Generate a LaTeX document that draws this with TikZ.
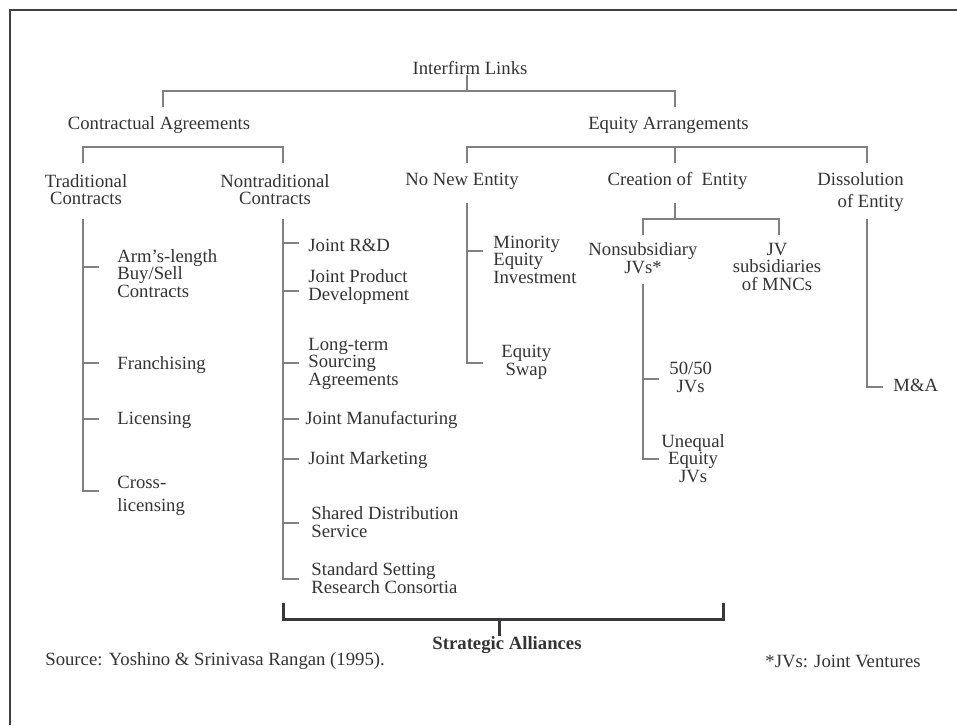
\documentclass[tikz,border=0pt]{standalone}
\usepackage{fontspec}
\setmainfont{Liberation Serif}
\usetikzlibrary{calc}
\definecolor{txt}{HTML}{333333}
\definecolor{lin}{HTML}{808080}
\definecolor{brk}{HTML}{38383C}
\definecolor{frm}{HTML}{404040}
\tikzset{
  lbl/.style={inner sep=0pt, text=txt, font=\fontsize{9.35}{8.75}\selectfont},
  leaf/.style={lbl, anchor=west, align=left},
  ctr/.style={lbl, align=center},
  conn/.style={draw=lin, line width=0.6pt},
  brkline/.style={draw=brk, line width=1.5pt},
  framel/.style={draw=frm, line width=1.1pt}
}
\begin{document}
\begin{tikzpicture}[x=0.5pt, y=-0.5pt]
\useasboundingbox (0,0) rectangle (957,725);
% frame
\coordinate (fr1) at (957,10);
\coordinate (fr2) at (10,10);
\coordinate (fr3) at (10,725);
\draw[framel] (fr1) -- (fr2) -- (fr3);

% level 1 and 2
\node[ctr] (interfirm) at (470,68) {Interfirm Links};
\node[ctr] (contractual) at (159,125) {Contractual Agreements};
\node[ctr] (equity) at (668.5,125) {Equity Arrangements};
\coordinate (L1) at (467,91);
\coordinate (ca) at (163,107);
\coordinate (eb) at (675,107);
\draw[conn] (interfirm.south -| L1) -- (L1);
\draw[conn] (ca) |- (L1) -| (eb);

% level 3
\node[ctr] (trad) at (86,189.5) {Traditional\\Contracts};
\node[ctr] (nontrad) at (275,189.5) {Nontraditional\\Contracts};
\node[ctr] (nonew) at (462,181) {No New Entity};
\node[ctr] (creation) at (677.5,181) {Creation of\ \ Entity};
\node[lbl, align=right, anchor=east, font=\fontsize{9.35}{11}\selectfont] (dissol) at (904,192) {Dissolution\\of Entity};

\coordinate (trd) at (83,163);
\coordinate (ctb) at (183,147);
\coordinate (ntd) at (283,163);
\draw[conn] (trd) |- (ctb) -| (ntd);
\coordinate (nnd) at (467,163);
\coordinate (eqb) at (675,147);
\coordinate (crd) at (675,163);
\coordinate (dsd) at (867,163);
\draw[conn] (nnd) |- (eqb) -| (dsd);
\draw[conn] (eqb) -- (crd);

% traditional contracts
\coordinate (trt) at (83,219);
\node[leaf] (arm) at (117,273.5) {Arm’s-length\\Buy/Sell\\Contracts};
\node[leaf] (fran) at (117,365) {Franchising};
\node[leaf] (lic) at (117,420) {Licensing};
\node[leaf, font=\fontsize{9.35}{11.5}\selectfont] (cross) at (117,495.5) {Cross-\\licensing};
\draw[conn, shorten >=9pt] (trt) |- ($(arm.west)+(0,-6.5)$);
\draw[conn, shorten >=9pt] (trt) |- ($(fran.west)+(0,-2)$);
\draw[conn, shorten >=9pt] (trt) |- ($(lic.west)+(0,-1)$);
\draw[conn, shorten >=9pt] (trt) |- ($(cross.west)+(0,-4.5)$);

% nontraditional contracts
\coordinate (ntt) at (283,219);
\node[leaf] (jrd) at (308,245) {Joint R\&D};
\node[leaf] (jpd) at (308,287) {Joint Product\\Development};
\node[leaf] (lts) at (308,363.5) {Long-term\\Sourcing\\Agreements};
\node[leaf] (jmf) at (305,420) {Joint Manufacturing};
\node[leaf] (jmk) at (308,460) {Joint Marketing};
\node[leaf] (sds) at (311,522) {Shared Distribution\\Service};
\node[leaf] (ssr) at (311,578) {Standard Setting\\Research Consortia};
\draw[conn, shorten >=4.5pt] (ntt) |- ($(jrd.west)+(0,-2)$);
\draw[conn, shorten >=4.5pt] (ntt) |- ($(jpd.west)+(0,4)$);
\draw[conn, shorten >=4.5pt] (ntt) |- ($(lts.west)+(0,-0.5)$);
\draw[conn, shorten >=3pt] (ntt) |- ($(jmf.west)+(0,-1)$);
\draw[conn, shorten >=4.5pt] (ntt) |- ($(jmk.west)+(0,-1)$);
\draw[conn, shorten >=6pt] (ntt) |- ($(sds.west)+(0,1)$);
\draw[conn, shorten >=6pt] (ntt) |- ($(ssr.west)+(0,1)$);

% no new entity
\coordinate (nnt) at (467,203);
\node[leaf] (minor) at (493,259.5) {Minority\\Equity\\Investment};
\node[lbl, anchor=west, align=center] (eqsw) at (501,362.5) {Equity\\Swap};
\draw[conn, shorten >=5pt] (nnt) |- ($(minor.west)+(0,-8.5)$);
\draw[conn, shorten >=9pt] (nnt) |- ($(eqsw.west)+(0,0.5)$);

% creation of entity
\coordinate (crs) at (675,203);
\coordinate (crb) at (675,219);
\coordinate (nsd) at (643,235);
\coordinate (jvd) at (779,235);
\draw[conn] (crs) -- (crb);
\draw[conn] (nsd) |- (crb) -| (jvd);
\node[ctr] (nonsub) at (643,258) {Nonsubsidiary\\JVs*};
\node[ctr] (jvsub) at (777,266.5) {JV\\subsidiaries\\of MNCs};
\coordinate (nst) at (643,284);
\node[lbl, anchor=west, align=center] (f50) at (669,377.5) {50/50\\JVs};
\node[lbl, anchor=west, align=center] (uneq) at (661,458.5) {Unequal\\Equity\\JVs};
\draw[conn, shorten >=5pt] (nst) |- ($(f50.west)+(0,1.5)$);
\draw[conn, shorten >=1pt] (nst) |- ($(uneq.west)+(0,0.5)$);

% dissolution
\coordinate (dst) at (867,219);
\node[leaf] (mna) at (893,385) {M\&A};
\draw[conn, shorten >=5pt] (dst) |- ($(mna.west)+(0,2)$);

% strategic alliances bracket
\node[ctr, font=\fontsize{9.35}{8.75}\selectfont\bfseries] (strat) at (507,645) {Strategic Alliances};
\coordinate (bl) at (283,603);
\coordinate (bm) at (499,619);
\coordinate (br) at (723,603);
\draw[brkline] (bl) |- (bm) -| (br);
\draw[brkline] (bm) -- (bm |- strat.north);

% footer
\node[leaf] (source) at (45,661) {Source: Yoshino \& Srinivasa Rangan (1995).};
\node[leaf] (jvnote) at (765,661) {*JVs: Joint Ventures};
\end{tikzpicture}
\end{document}
